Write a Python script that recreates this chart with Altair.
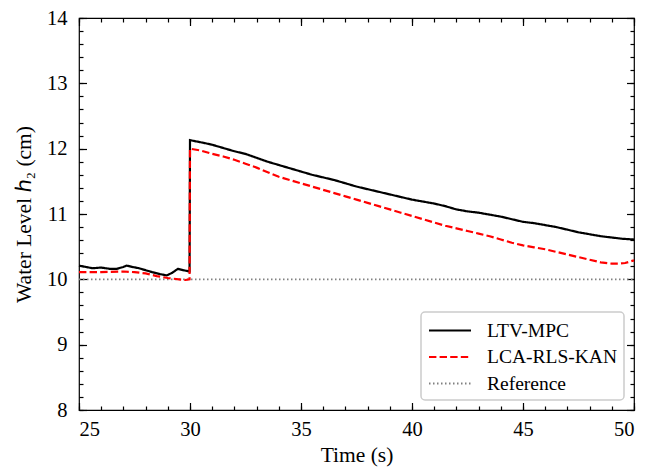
import altair as alt
import pandas as pd

# ---- data ----
names = ["LTV-MPC", "LCA-RLS-KAN", "Reference"]
colors = ["#000000", "#ff0000", "#808080"]
dashes = [[1, 0], [7.4, 3.2], [1.5, 2.5]]

t_mpc = [25.0, 25.3, 25.6, 26.0, 26.2, 26.4, 26.7, 27.0, 27.15, 27.4, 27.7, 28.0,
         28.3, 28.65, 28.95, 29.2, 29.45, 29.7, 29.98, 30.0, 30.3, 30.6, 31.0,
         31.5, 32.0, 32.5, 33.0, 33.5, 34.0, 34.5, 35.0, 35.5, 36.0, 36.5, 37.0,
         37.5, 38.0, 38.5, 39.0, 39.5, 40.0, 40.5, 41.0, 41.5, 42.0, 42.5, 43.0,
         43.5, 44.0, 44.5, 45.0, 45.5, 46.0, 46.5, 47.0, 47.5, 48.0, 48.5, 49.0,
         49.5, 50.0]
h_mpc = [10.21, 10.19, 10.17, 10.18, 10.17, 10.16, 10.16, 10.19, 10.21, 10.19,
         10.17, 10.14, 10.11, 10.08, 10.06, 10.10, 10.16, 10.14, 10.12, 12.13,
         12.11, 12.09, 12.06, 12.01, 11.96, 11.92, 11.86, 11.80, 11.75, 11.70,
         11.65, 11.60, 11.56, 11.52, 11.47, 11.42, 11.38, 11.34, 11.30, 11.26,
         11.22, 11.19, 11.16, 11.12, 11.07, 11.04, 11.02, 10.99, 10.96, 10.92,
         10.88, 10.86, 10.83, 10.80, 10.76, 10.72, 10.69, 10.66, 10.64, 10.62,
         10.61]

t_kan = [25.0, 26.0, 27.0, 27.5, 28.0, 28.5, 29.0, 29.5, 29.8, 29.98, 30.0, 30.5,
         31.0, 31.5, 32.0, 32.5, 33.0, 33.5, 34.0, 34.5, 35.0, 35.5, 36.0, 36.5,
         37.0, 37.5, 38.0, 38.5, 39.0, 39.5, 40.0, 40.5, 41.0, 41.5, 42.0, 42.5,
         43.0, 43.5, 44.0, 44.5, 45.0, 45.5, 46.0, 46.5, 47.0, 47.5, 48.0, 48.5,
         49.0, 49.3, 49.6, 50.0]
h_kan = [10.11, 10.11, 10.12, 10.11, 10.09, 10.05, 10.02, 10.00, 9.99, 10.00,
         12.00, 11.97, 11.92, 11.88, 11.83, 11.77, 11.71, 11.64, 11.57, 11.52,
         11.47, 11.42, 11.37, 11.32, 11.27, 11.22, 11.17, 11.12, 11.07, 11.02,
         10.97, 10.92, 10.87, 10.82, 10.78, 10.74, 10.70, 10.66, 10.61, 10.56,
         10.52, 10.49, 10.46, 10.42, 10.38, 10.34, 10.30, 10.26, 10.24, 10.24,
         10.25, 10.29]

t_ref = [25.0, 50.0]
h_ref = [10.0, 10.0]

x_major = [25, 30, 35, 40, 45, 50]
x_minor = list(range(25, 51))
y_major = [8, 9, 10, 11, 12, 13, 14]
y_minor = [round(8 + 0.2 * i, 1) for i in range(31)]

df_mpc = pd.DataFrame({"t": t_mpc, "h": h_mpc, "series": names[0]})
df_kan = pd.DataFrame({"t": t_kan, "h": h_kan, "series": names[1]})
df_ref = pd.DataFrame({"t": t_ref, "h": h_ref, "series": names[2]})

FONT = "Liberation Serif"
xs = alt.Scale(domain=[25, 50], nice=False, zero=False)
ys = alt.Scale(domain=[8, 14], nice=False, zero=False)

color = alt.Color("series:N", scale=alt.Scale(domain=names, range=colors),
                  legend=alt.Legend(title=None))
dash = alt.StrokeDash("series:N", scale=alt.Scale(domain=names, range=dashes),
                      legend=alt.Legend(title=None))

MAJ, MIN = 7.5, 4


def ax(orient, values, size, labels, title=None, **kw):
    return alt.Axis(orient=orient, values=values, tickSize=size, offset=-size,
                    labels=labels, title=title, domain=False, grid=False,
                    tickColor="black", tickWidth=1.2, **kw)


lab = dict(labelFont=FONT, labelFontSize=20.5, labelColor="black",
           titleFont=FONT, titleFontSize=21.5, titleColor="black",
           titleFontWeight="normal")

ref = alt.Chart(df_ref).mark_line(strokeWidth=1.6).encode(
    x=alt.X("t:Q", scale=xs,
            axis=ax("bottom", x_major, MAJ, True, "Time (s)", labelPadding=9,
                    titlePadding=5, **lab)),
    y=alt.Y("h:Q", scale=ys,
            axis=ax("left", y_major, MAJ, True, "Water Level ℎ₂ (cm)",
                    labelPadding=12, titlePadding=11, **lab)),
    color=color, strokeDash=dash,
)

mpc = alt.Chart(df_mpc).mark_line(strokeWidth=2.2).encode(
    x=alt.X("t:Q", scale=xs, axis=ax("bottom", x_minor, MIN, False)),
    y=alt.Y("h:Q", scale=ys, axis=ax("left", y_minor, MIN, False)),
    color=color, strokeDash=dash,
)

kan = alt.Chart(df_kan).mark_line(strokeWidth=2.2).encode(
    x=alt.X("t:Q", scale=xs, axis=ax("top", x_major, MAJ, False)),
    y=alt.Y("h:Q", scale=ys, axis=ax("right", y_major, MAJ, False)),
    color=color, strokeDash=dash,
)

ghost = alt.Chart(df_ref).mark_point(opacity=0).encode(
    x=alt.X("t:Q", scale=xs, axis=ax("top", x_minor, MIN, False)),
    y=alt.Y("h:Q", scale=ys, axis=ax("right", y_minor, MIN, False)),
)

chart = alt.layer(ref, mpc, kan, ghost).resolve_axis(
    x="independent", y="independent"
).properties(
    width=555, height=392,
    autosize=alt.AutoSizeParams(type="none"),
    padding={"left": 71, "top": 10, "right": 15, "bottom": 62},
).configure_view(
    stroke="black", strokeWidth=1.2
).configure_legend(
    orient="bottom-right", offset=10, padding=7,
    fillColor="white", strokeColor="#cccccc", strokeWidth=1.5, cornerRadius=4,
    labelFont=FONT, labelFontSize=19.5, labelColor="black", labelOffset=36,
    symbolType="M-1,0H3", symbolSize=441, symbolStrokeWidth=2, rowPadding=5.5,
)

chart.save("out.html", embed_options={"renderer": "svg", "actions": False})
